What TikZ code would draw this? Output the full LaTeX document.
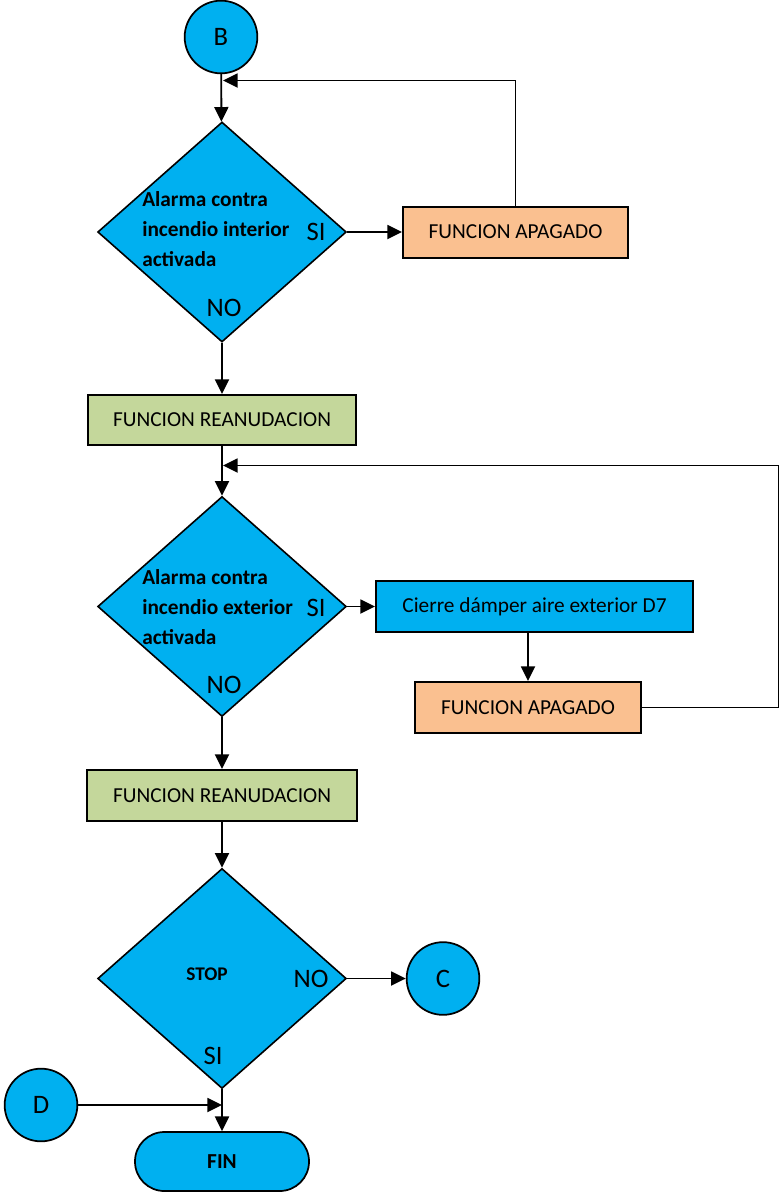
\documentclass[tikz,border=0pt]{standalone}
\usepackage{fontspec}
\setmainfont{Carlito}
\usepackage{tikz}
\usetikzlibrary{shapes.geometric, arrows.meta, positioning, calc}

\definecolor{celeste}{HTML}{00B0F0}
\definecolor{durazno}{HTML}{FAC090}
\definecolor{oliva}{HTML}{C4D79B}

\begin{document}
\begin{tikzpicture}[x=0.75pt, y=-0.75pt]
        \tikzstyle{conector} = [circle, draw, line width=1.3pt, fill=celeste, minimum size=54.5pt, inner sep=0pt, font=\fontsize{20}{24}\selectfont]
        \tikzstyle{decision} = [diamond, draw, line width=1.2pt, fill=celeste, minimum width=186.5pt, minimum height=165pt, inner sep=0pt]
        \tikzstyle{bloque} = [rectangle, draw, line width=1.5pt, text centered, font=\fontsize{16}{19}\selectfont]
        \tikzstyle{pregunta} = [anchor=west, align=left, inner sep=0pt, font=\fontsize{16}{22.5}\selectfont\bfseries]
        \tikzstyle{resp} = [inner sep=0pt, font=\fontsize{20}{24}\selectfont]
        \tikzstyle{line} = [draw, line width=1.4pt, -{Triangle[length=11pt, width=10.5pt]}]
        \useasboundingbox (0,0) rectangle (780,1193);

        % primera decision
        \node [conector] (b) at (221,37) {B};
        \node [decision] (q1) at (222,232) {};
        \node [pregunta] (q1txt) at (142,229) {Alarma contra\\incendio interior\\activada};
        \node [resp] (q1si) at (316,232) {SI};
        \node [resp] (q1no) at (224,308) {NO};
        \node [bloque, fill=durazno, minimum width=168.75pt, minimum height=38.25pt] (apag1) at (515.5,232) {FUNCION APAGADO};
        \node [bloque, fill=oliva, minimum width=201pt, minimum height=37.5pt] (rea1) at (222,420) {FUNCION REANUDACION};
        \coordinate (j1) at (223,80.5);

        % segunda decision
        \node [decision] (q2) at (222,606.5) {};
        \node [pregunta] (q2txt) at (142,607) {Alarma contra\\incendio exterior\\activada};
        \node [resp] (q2si) at (316,608) {SI};
        \node [resp] (q2no) at (224,685) {NO};
        \node [bloque, fill=celeste, minimum width=237.75pt, minimum height=38.25pt] (cierre) at (534.5,606.5) {Cierre dámper aire exterior D7};
        \node [bloque, fill=durazno, minimum width=170pt, minimum height=38.25pt] (apag2) at (528,707.5) {FUNCION APAGADO};
        \node [bloque, fill=oliva, minimum width=202.5pt, minimum height=38.25pt] (rea2) at (222,795.5) {FUNCION REANUDACION};
        \coordinate (r2) at (778.5,465.5);
        \coordinate (j2) at (223,465.5);

        % fin
        \node [decision] (q3) at (222,978.5) {};
        \node [inner sep=0pt, font=\fontsize{14.5}{17}\selectfont\bfseries] (stop) at (207,974) {STOP};
        \node [resp] (q3no) at (311,979) {NO};
        \node [resp] (q3si) at (213,1056) {SI};
        \node [conector] (c) at (443,978.5) {C};
        \node [conector] (d) at (41,1105) {D};
        \node [bloque, fill=celeste, line width=1.3pt, rounded corners=22pt, minimum width=130.5pt, minimum height=44.25pt, font=\fontsize{16}{19}\selectfont\bfseries] (fin) at (222,1161.5) {FIN};
        \coordinate (j3) at (222,1105);

        \path [line] (b) -- (q1);
        \path [line] (q1.east) -- (apag1.west);
        \path [line] (apag1.north) |- (j1);
        \path [line] (q1.south) -- (rea1.north);
        \path [line] (rea1.south) -- (q2.north);
        \path [line] (q2.east) -- (cierre.west);
        \path [line] (apag2.north |- cierre.south) -- (apag2.north);
        \path [line] (apag2.east) -| (r2) -- (j2);
        \path [line] (q2.south) -- (rea2.north);
        \path [line] (rea2.south) -- (q3.north);
        \path [line] (q3.east) -- (c.west);
        \path [line] (q3.south) -- (fin.north);
        \path [line] (d.east) -- (j3);
    \end{tikzpicture}
\end{document}
